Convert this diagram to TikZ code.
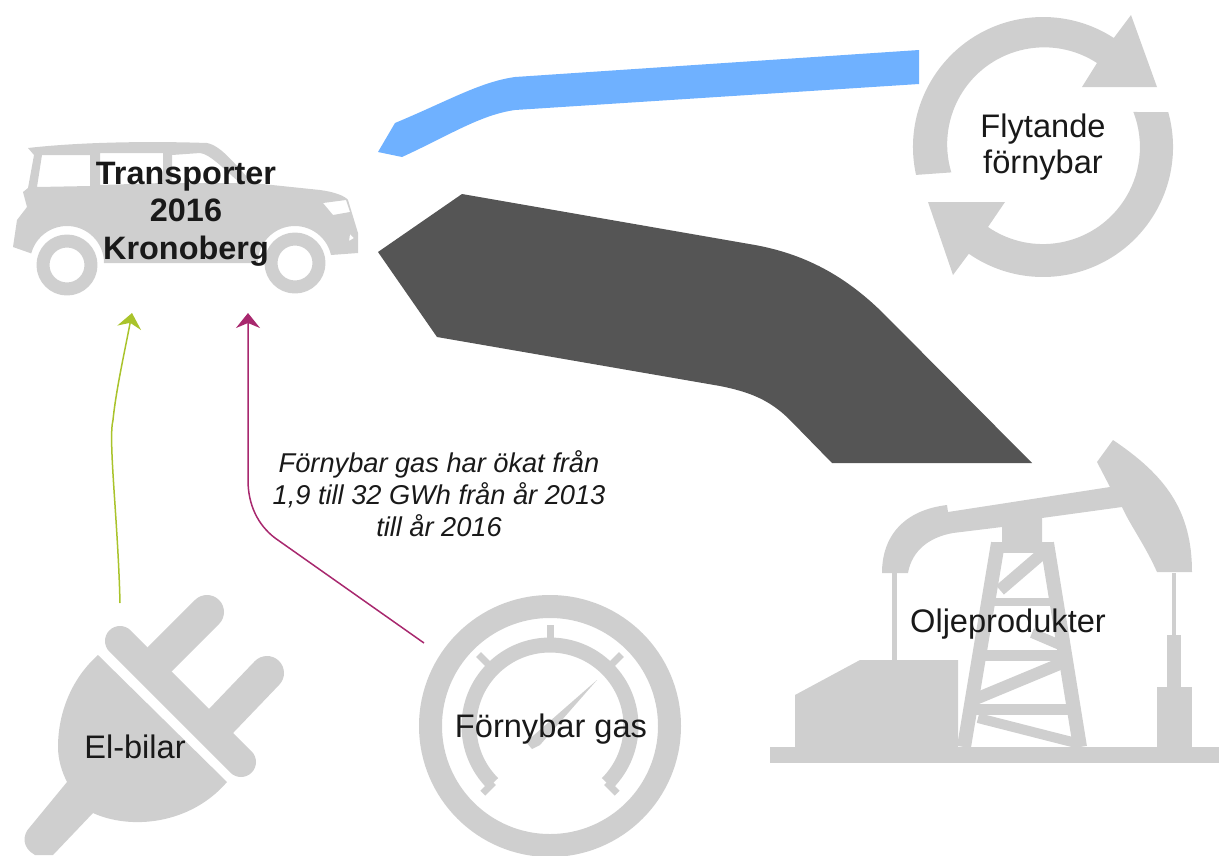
\documentclass[tikz,border=0pt]{standalone}
\usepackage{fontspec}
\setmainfont{Liberation Sans}
\usetikzlibrary{arrows.meta}
\definecolor{icongray}{HTML}{CFCFCF}
\definecolor{oilflow}{HTML}{555555}
\definecolor{liquidflow}{HTML}{6FB1FF}
\definecolor{elflow}{HTML}{A9C32B}
\definecolor{gasflow}{HTML}{A8286E}
\tikzset{
	icon/.style={fill=icongray,draw=none},
	bar/.style={draw=icongray,line width=#1},
	label/.style={align=center,font=\fontsize{32.6}{37}\selectfont,text=black!90},
	flowarrow/.style={-{Stealth[length=15pt,width=24pt,inset=5pt]},line width=1.5pt}
}
\begin{document}
\begin{tikzpicture}[line join=round,x=1pt,y=-1pt]
	\useasboundingbox (0,0) rectangle (1219,855);
	\path 
	(1043,147) coordinate (R)
	(550,726) coordinate (G)
	(120,603) coordinate (E0)
	(132,313) coordinate (E1)
	(424,643) coordinate (H0)
	(248,313) coordinate (H1)
	;
	% flows
	\fill[liquidflow] (378,152)--(395,123) .. controls (450,100) and (480,82) .. (515,77)--(919,50)--(919,84)--(515,110) .. controls (480,115) and (450,135) .. (402,157)--cycle;
	\fill[oilflow] (378,252)--(462,194)--(755,245) .. controls (810,255) and (850,280) .. (885,315)--(1032,463)--(832,463)--(790,420) .. controls (770,400) and (750,392) .. (720,386)--(437,337)--cycle;
	% car
	\fill[icon,even odd rule] (28,148) .. controls (80,142) and (150,141) .. (207,143) .. controls (222,146) and (235,165) .. (253,183)--(320,190) .. controls (335,192) and (345,196) .. (348,200)--(358,233)--(358,253)--(331,255) arc (-12.5:-180:37)--(104,263) arc (0:-165:37)--(13,247)--(17,220)--(27,207)--(23,192)--(28,188)--(34,155)--cycle
	(42,155)--(90,155)--(90,186)--(37,187)--cycle
	(100,153)--(163,153)--(163,183)--(100,185)--cycle
	(172,155)--(200,153) .. controls (210,154) and (225,170) .. (240,183)--(172,183)--cycle
	(323,203)--(346,200)--(350,212)--(333,215)--cycle
	(350,234)--(354,238)--(349,241)--cycle;
	\draw[bar=13pt] (295,263) circle(24);
	\draw[bar=13pt] (67,265) circle(24);
	% recycling
	\fill[icon] (R) ++(167.6:130) arc (167.6:303:130)--(1131,15)--(1157,87)--(1082,87)--(1097,63) arc (303:163.2:97)--cycle;
	\fill[icon] (R) ++(-15.6:130) arc (-15.6:124.8:130)--(953,275)--(928,202)--(1005,202)--(988,227) arc (124.5:-21.2:97)--cycle;
	% pump
	\fill[icon] (770,747) rectangle (1219,763);
	\fill[icon] (795,747)--(795,695)--(860,660)--(958,660)--(958,747)--cycle;
	\fill[icon] (892,573) rectangle (897,660);
	\fill[icon] (882,573) .. controls (882,535) and (905,510) .. (947,505)--(948,512)--(1110,487)--(1097,462)--(1113,440) .. controls (1165,475) and (1192,510) .. (1192,572)--(1157,572) .. controls (1145,545) and (1130,525) .. (1122,507)--(1042,518)--(1042,542)--(1002,542)--(1002,527)--(953,533) .. controls (930,537) and (912,550) .. (908,573)--cycle;
	\foreach \a/\b in {998/964,1047/1080}
		\draw[bar=14pt] (\a,543)--(\b,747);
	\draw[bar=11pt] (992,547)--(1053,547);
	\draw[bar=12pt] (1043,553)--(1000,590);
	\draw[bar=8pt] (985,602)--(1055,602);
	\draw[bar=10pt] (1032,633)--(1067,648);
	\draw[bar=11pt] (978,655)--(1068,655);
	\draw[bar=12pt] (1062,663)--(973,700);
	\draw[bar=11pt] (970,709)--(1072,709);
	\draw[bar=10pt] (978,718)--(1080,744);
	\fill[icon] (1172,573) rectangle (1176,635);
	\fill[icon] (1167,635) rectangle (1181,688);
	\fill[icon] (1157,687) rectangle (1192,747);
	% plug
	\fill[icon] (98,655) .. controls (70,680) and (58,715) .. (58,747) .. controls (58,760) and (62,772) .. (67,782)--(30,827) .. controls (22,835) and (22,848) .. (35,855)--(53,855)--(93,813) .. controls (130,830) and (190,825) .. (227,782)--cycle;
	\draw[bar=30pt,line cap=round] (120,641)--(241,762);
	\draw[bar=34pt,line cap=round] (207,612)--(160,659);
	\draw[bar=34pt,line cap=round] (267,673)--(221,721);
	% gauge
	\draw[bar=23pt] (G) circle(119.5);
	\draw[bar=15pt] (G) ++(135:81) arc (135:405:81);
	\foreach \t in {225,270,315}
		\draw[bar=7pt] (G) ++(\t:80)--++(\t:21);
	\foreach \t in {135,45}
		\draw[bar=7pt] (G) ++(\t:80)--++(\t:15);
	\fill[icon] (597,680)--(540,745)--(532,749)--(526,742)--cycle;
	% arrows
	\draw[flowarrow,elflow] (E0) .. controls (118,520) and (108,440) .. (113,420) .. controls (116,390) and (125,350) .. (E1);
	\draw[flowarrow,gasflow] (H0) -- (275,538) .. controls (258,525) and (248,505) .. (248,480) -- (H1);
	% labels
	\node[label,font=\bfseries\fontsize{32.4}{37.5}\selectfont] (transport) at (186,214) {Transporter\\2016\\Kronoberg};
	\node[label,font=\fontsize{32.6}{36}\selectfont] (liquid) at (1043,147) {Flytande\\förnybar};
	\node[label] (oil) at (1008,624) {Oljeprodukter};
	\node[label] (renewgas) at (551,729) {Förnybar gas};
	\node[label] (electric) at (135,747) {El-bilar};
	\node[label,font=\itshape\fontsize{27.2}{32}\selectfont] (note) at (439,494) {Förnybar gas har ökat från\\1,9 till 32 GWh från år 2013\\till år 2016};
\end{tikzpicture}
\end{document}
